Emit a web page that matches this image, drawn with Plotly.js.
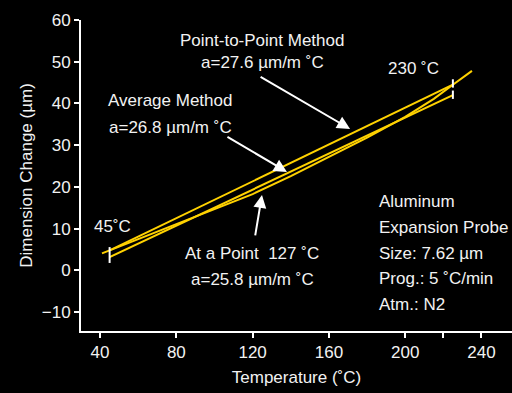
<!DOCTYPE html>
<html>
<head>
<meta charset="utf-8">
<script src="https://cdn.plot.ly/plotly-3.0.1.min.js"></script>
<style>
  html, body { margin: 0; padding: 0; background: #000; }
  #chart { width: 512px; height: 393px; }
</style>
</head>
<body>
<div id="chart"></div>
<script>
// ---- data ----
const curveTemp = [41, 45, 60, 80, 100, 120, 140, 160, 180, 200, 215, 225, 235];
const curveDim  = [4.1, 4.8, 7.5, 11.1, 14.7, 18.3, 22.6, 27.1, 31.8, 36.8, 41.1, 44.5, 47.8];

const p2pTemp = [45, 225];
const p2pDim  = [4.8, 44.5];

const avgTemp = [45, 225];
const avgDim  = [3.2, 42.0];

const markTemp = [45, 45, null, 225, 225, null, 225, 225];
const markDim  = [1.8, 5.6, null, 43.8, 45.8, null, 41.1, 43.1];

const xTickVals = [40, 80, 120, 160, 200, 220, 240];
const xTickText = ['40', '80', '120', '160', '200', '', '240'];
const yTickVals = [-10, 0, 10, 20, 30, 40, 50, 60];

const infoLines = ['Aluminum', 'Expansion Probe', 'Size: 7.62 µm', 'Prog.: 5 ˚C/min', 'Atm.: N2'];

// ---- layout helpers ----
const FONT = '"Liberation Sans", Arial, sans-serif';
const FS = 17;
const TXT = '#f2f2f2';
const YEL = '#FFD200';
const L = 81, T = 20, W = 431, H = 311;
const px = x => (x - L) / W;
const py = y => (T + H - y) / H;

const lineStyle = {color: YEL, width: 2};
const traces = [
  {x: curveTemp, y: curveDim, type: 'scatter', mode: 'lines', line: lineStyle, name: 'Measured', hoverinfo: 'skip'},
  {x: p2pTemp, y: p2pDim, type: 'scatter', mode: 'lines', line: lineStyle, name: 'Point-to-Point', hoverinfo: 'skip'},
  {x: avgTemp, y: avgDim, type: 'scatter', mode: 'lines', line: lineStyle, name: 'Average', hoverinfo: 'skip'},
  {x: markTemp, y: markDim, type: 'scatter', mode: 'lines', line: {color: '#ffffff', width: 2}, name: 'Limits', hoverinfo: 'skip'}
];

function label(text, x, y, anchor) {
  return {text: text, xref: 'paper', yref: 'paper', x: px(x), y: py(y),
          xanchor: anchor || 'center', yanchor: 'middle', showarrow: false,
          font: {family: FONT, size: FS, color: TXT}};
}
function arrow(x, y, ax, ay) {
  return {text: '', x: x, y: y, xref: 'x', yref: 'y', ax: ax, ay: ay,
          showarrow: true, arrowhead: 2, arrowsize: 1.3, arrowwidth: 2, arrowcolor: '#ffffff'};
}

const annotations = [
  label('Point-to-Point Method', 262, 40),
  label('a=27.6 µm/m ˚C', 262, 63),
  label('Average Method', 106, 101, 'left'),
  label('a=26.8 µm/m ˚C', 107, 127, 'left'),
  label('At a Point  127 ˚C', 252, 253),
  label('a=25.8 µm/m ˚C', 252, 279),
  label('45˚C', 112, 226),
  label('230 ˚C', 413, 68),
  arrow(171.1, 33.9, -91, -53),
  arrow(138.0, 23.6, -61, -36),
  arrow(124.9, 18.1, -7, 42)
];
infoLines.forEach((t, i) => annotations.push(label(t, 377, 202 + i * 25.5, 'left')));

const axisCommon = {
  showline: true, linecolor: '#ffffff', linewidth: 2,
  ticks: 'outside', ticklen: 5, tickwidth: 2, tickcolor: '#ffffff',
  showgrid: false, zeroline: false,
  tickfont: {family: FONT, size: FS, color: TXT}
};

const layout = {
  width: 512, height: 393,
  margin: {l: L, r: 512 - L - W, t: T, b: 393 - T - H, pad: 0},
  paper_bgcolor: '#000000', plot_bgcolor: '#000000',
  showlegend: false,
  xaxis: Object.assign({}, axisCommon, {
    range: [30, 256], tickmode: 'array', tickvals: xTickVals, ticktext: xTickText,
    title: {text: 'Temperature (˚C)', font: {family: FONT, size: FS, color: TXT}, standoff: 10}
  }),
  yaxis: Object.assign({}, axisCommon, {
    range: [-14.5, 60], tickmode: 'array', tickvals: yTickVals,
    title: {text: 'Dimension Change (µm)', font: {family: FONT, size: FS, color: TXT}, standoff: 5}
  }),
  annotations: annotations
};

Plotly.newPlot('chart', traces, layout, {displayModeBar: false, staticPlot: true});
</script>
</body>
</html>
